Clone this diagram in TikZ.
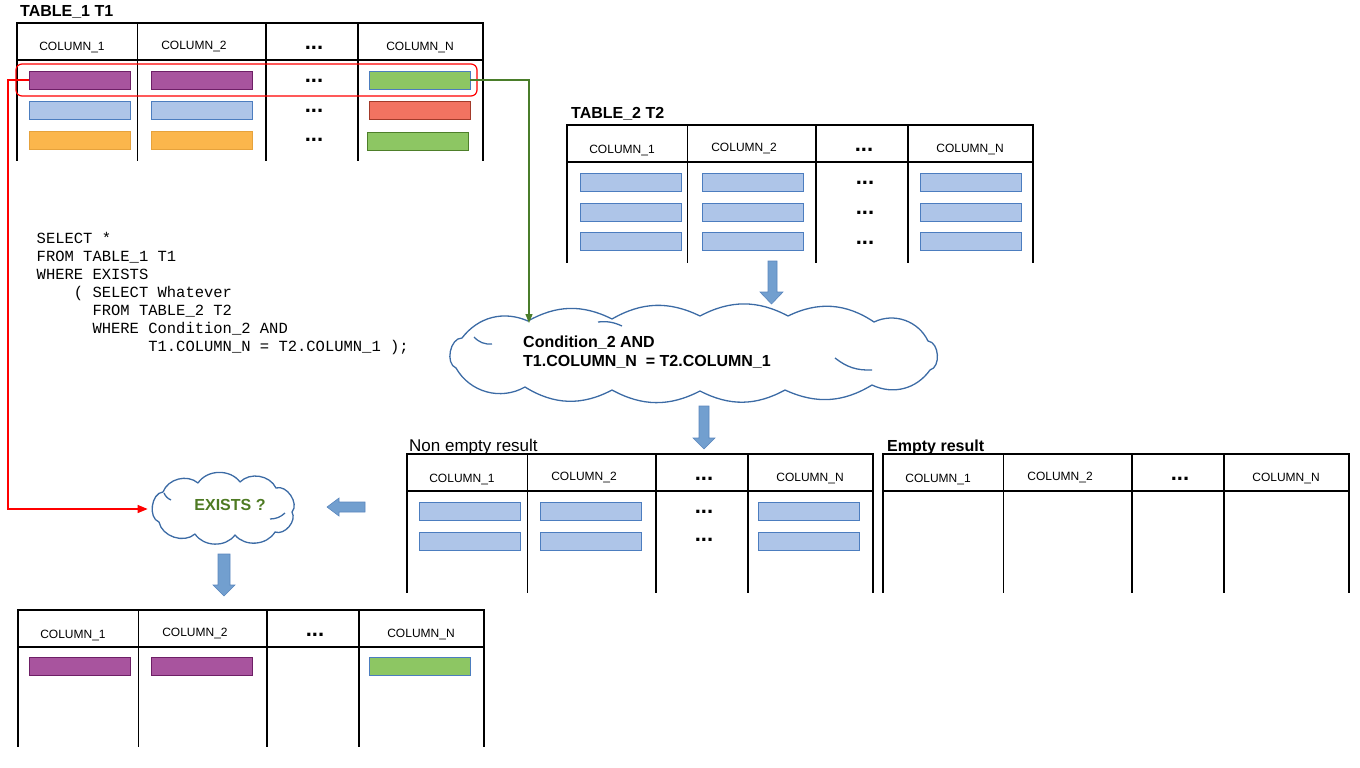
\documentclass[tikz,border=0pt]{standalone}
\usepackage{fontspec}
\setmainfont{Liberation Sans}
\newfontfamily\sqlfont{Liberation Mono}
\usetikzlibrary{shapes.symbols,arrows.meta}
\definecolor{cloudblue}{HTML}{3C6BA5}
\definecolor{arrowfill}{HTML}{729FCF}
\definecolor{arrowdraw}{HTML}{5A86BD}
\definecolor{purfill}{HTML}{A8549E}
\definecolor{purdraw}{HTML}{6E1F66}
\definecolor{grnfill}{HTML}{8DC663}
\definecolor{grndraw}{HTML}{4E7F2A}
\definecolor{bluefill}{HTML}{AEC5E8}
\definecolor{bluedraw}{HTML}{4C7DBF}
\definecolor{redfill}{HTML}{F27361}
\definecolor{reddraw}{HTML}{A33A2A}
\definecolor{orafill}{HTML}{FBB64C}
\definecolor{oradraw}{HTML}{E6A23C}
\definecolor{existsgreen}{HTML}{4E7A23}
\definecolor{linegreen}{HTML}{4A7D2A}
\tikzset{
  tline/.style={line width=1.4pt, black},
  barbox/.style={rectangle, line width=0.9pt, minimum width=101pt, minimum height=18pt, inner sep=0pt, outer sep=0pt, anchor=north west},
  hdr/.style={font=\fontsize{12}{14}\selectfont, anchor=base, inner sep=0pt},
  dotstxt/.style={font=\bfseries\fontsize{22}{22}\selectfont, inner sep=0pt},
  ttl/.style={font=\bfseries\fontsize{16}{18}\selectfont, anchor=base west, inner sep=0pt},
  sql/.style={font=\sqlfont\fontsize{15.5}{18}\selectfont, anchor=base west, inner sep=0pt},
  blockarrow/.style={fill=arrowfill, draw=arrowdraw, line width=0.6pt},
  cloudanchor/.style={cloud, cloud ignores aspect, draw=none, inner sep=0pt},
  cloudline/.style={draw=cloudblue, line width=1.3pt, line join=round},
}
\newcommand{\tablegrid}[4]{%
  \draw[tline] (#2,#3) rectangle ({#2+466},{#3+37});
  \foreach \dx in {120.5,249,341} {\draw[tline] ({#2+\dx},#3) -- ({#2+\dx},#4);}
  \draw[tline] (#2,{#3+37}) -- (#2,#4);
  \draw[tline] ({#2+466},{#3+37}) -- ({#2+466},#4);
  \node[hdr] (#1-h1) at ({#2+55},{#3+28}) {COLUMN\_1};
  \node[hdr] (#1-h2) at ({#2+177},{#3+26.5}) {COLUMN\_2};
  \node[dotstxt] (#1-h3) at ({#2+297},{#3+25}) {...};
  \node[hdr] (#1-h4) at ({#2+403},{#3+27.5}) {COLUMN\_N};
}
\newcommand{\tbar}[5]{\node[barbox, fill=#4, draw=#5] (#1) at (#2,#3) {};}
\begin{document}
\begin{tikzpicture}[x=1pt,y=-1pt]
\useasboundingbox (0,0) rectangle (1360,768);
% ---------- TABLE 1 ----------
\node[ttl] (t1title) at (20,17) {TABLE\_1 T1};
\tablegrid{t1}{17}{23}{161}
\tbar{t1r1c1}{29}{71}{purfill}{purdraw}
\tbar{t1r1c2}{151}{71}{purfill}{purdraw}
\tbar{t1r1c4}{369}{71}{grnfill}{bluedraw}
\tbar{t1r2c1}{29}{101}{bluefill}{bluedraw}
\tbar{t1r2c2}{151}{101}{bluefill}{bluedraw}
\tbar{t1r2c4}{369}{101}{redfill}{reddraw}
\tbar{t1r3c1}{29}{131}{orafill}{oradraw}
\tbar{t1r3c2}{151}{131}{orafill}{oradraw}
\tbar{t1r3c4}{367}{132}{grnfill}{grndraw}
\node[dotstxt] (t1d1) at (314,81) {...};
\node[dotstxt] (t1d2) at (314,111) {...};
\node[dotstxt] (t1d3) at (314,140) {...};
\draw[red, line width=1.2pt, rounded corners=6pt] (16,64) rectangle (477,96);
% ---------- TABLE 2 ----------
\node[ttl] (t2title) at (571,118) {TABLE\_2 T2};
\tablegrid{t2}{567}{125}{263}
\foreach \r/\yy in {1/173,2/203,3/232}{
  \tbar{t2r\r c1}{580}{\yy}{bluefill}{bluedraw}
  \tbar{t2r\r c2}{702}{\yy}{bluefill}{bluedraw}
  \tbar{t2r\r c4}{920}{\yy}{bluefill}{bluedraw}
}
\node[dotstxt] (t2d1) at (865,183) {...};
\node[dotstxt] (t2d2) at (865,213) {...};
\node[dotstxt] (t2d3) at (865,243) {...};
% ---------- SQL ----------
\node[sql] (sql1) at (36.5,243) {SELECT *};
\node[sql] (sql2) at (36.5,261) {FROM TABLE\_1 T1};
\node[sql] (sql3) at (36.5,279) {WHERE EXISTS};
\node[sql] (sql4) at (73.7,297) {( SELECT Whatever};
\node[sql] (sql5) at (92.3,315) {FROM TABLE\_2 T2};
\node[sql] (sql6) at (92.3,333) {WHERE Condition\_2 AND};
\node[sql] (sql7) at (148.1,351) {T1.COLUMN\_N = T2.COLUMN\_1 );};
% ---------- CONDITION CLOUD ----------
\node[cloudanchor, minimum width=496pt, minimum height=90pt] (cond) at (694,355) {};
\draw[cloudline] (456,368) to[bend left=80] (462,338) to[bend left=38] (528,321)
  to[bend left=28] (612,319) to[bend left=28] (700,316) to[bend left=28] (788,316)
  to[bend left=30] (874,322) to[bend left=45] (928,341) to[bend left=80] (930,370)
  to[bend left=40] (872,385) to[bend left=28] (785,390) to[bend left=28] (700,391)
  to[bend left=28] (612,390) to[bend left=30] (525,387) to[bend left=45] (456,368);
\draw[cloudline] (492,344) to[bend left=25] (474,337);
\draw[cloudline] (835,358) to[bend right=20] (872,370);
\draw[cloudline] (598,322) to[bend left=15] (622,326);
\node[font=\bfseries\fontsize{16}{19}\selectfont, align=left, anchor=west, inner sep=0pt] (condtxt) at (523,352.5) {Condition\_2 AND\\T1.COLUMN\_N\ \ = T2.COLUMN\_1};
% block arrows
\filldraw[blockarrow] (768,261) -- (777,261) -- (777,292) -- (783,292) -- (771.5,304) -- (760,292) -- (768,292) -- cycle;
\filldraw[blockarrow] (699,406) -- (709,406) -- (709,438) -- (715,438) -- (704,449) -- (693,438) -- (699,438) -- cycle;
% ---------- NON EMPTY RESULT ----------
\node[font=\fontsize{17}{19}\selectfont, anchor=base west, inner sep=0pt] (netitle) at (409,451) {Non empty result};
\tablegrid{ne}{407}{454}{593}
\foreach \r/\yy in {1/502,2/532}{
  \tbar{ner\r c1}{419}{\yy}{bluefill}{bluedraw}
  \tbar{ner\r c2}{540}{\yy}{bluefill}{bluedraw}
  \tbar{ner\r c4}{758}{\yy}{bluefill}{bluedraw}
}
\node[dotstxt] (ned1) at (704,512) {...};
\node[dotstxt] (ned2) at (704,540) {...};
% ---------- EMPTY RESULT ----------
\node[ttl] (emtitle) at (887,451) {Empty result};
\tablegrid{em}{883}{454}{593}
% ---------- EXISTS CLOUD ----------
\node[cloudanchor, minimum width=152pt, minimum height=72pt] (exists) at (223,509) {};
\draw[cloudline] (159,522) to[bend left=78] (163,492) to[bend left=55] (198,483)
  to[bend left=55] (240,482) to[bend left=55] (276,488) to[bend left=75] (292,512)
  to[bend left=70] (275,532) to[bend left=55] (235,535) to[bend left=55] (195,534)
  to[bend left=60] (159,522);
\draw[cloudline] (171,500) to[bend left=20] (164,493);
\draw[cloudline] (270,519) to[bend right=20] (285,513);
\node[font=\bfseries\fontsize{16}{18}\selectfont, text=existsgreen, inner sep=0pt] (existstxt) at (230,505) {EXISTS ?};
\filldraw[blockarrow] (365,502) -- (365,512) -- (339,512) -- (339,516) -- (327,507) -- (339,498) -- (339,502) -- cycle;
\filldraw[blockarrow] (218,554) -- (230,554) -- (230,585) -- (235,585) -- (224,596) -- (213,585) -- (218,585) -- cycle;
% ---------- RESULT TABLE ----------
\tablegrid{rs}{18}{610}{747}
\tbar{rsr1c1}{29}{657}{purfill}{purdraw}
\tbar{rsr1c2}{151}{657}{purfill}{purdraw}
\tbar{rsr1c4}{369}{657}{grnfill}{bluedraw}
% ---------- CONNECTORS ----------
\coordinate (gtip) at (529,323);
\draw[linegreen, line width=1.2pt, -{Triangle[length=9pt,width=7pt]}] (t1r1c4.east) -| (gtip);
\draw[red, line width=1.2pt, -{Triangle[length=10pt,width=8pt]}] (t1r1c1.west) -- ([xshift=-21pt]t1r1c1.west) |- (exists.west);
\end{tikzpicture}
\end{document}
